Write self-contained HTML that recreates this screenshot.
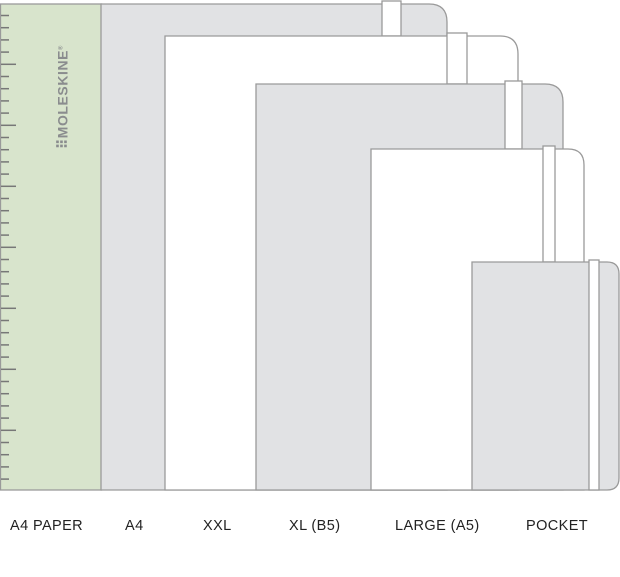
<!DOCTYPE html>
<html><head><style>
html,body{margin:0;padding:0;background:#fff;}
body{width:620px;height:577px;position:relative;overflow:hidden;font-family:"Liberation Sans",sans-serif;}
.l{position:absolute;top:518px;font-size:14.5px;letter-spacing:0.4px;color:#222;}
</style></head><body>
<svg width="620" height="577" style="position:absolute;left:0;top:0">
<g stroke="#9a9a9a" stroke-width="1.3">
<rect x="0.5" y="4" width="101" height="486" fill="#d8e4cc"/>
<path d="M101 490 V4 H429 Q447 4 447 22 V490 Z" fill="#e1e2e4"/>
<rect x="382" y="1" width="19" height="35" fill="#fff"/>
<path d="M165 490 V36 H500 Q518 36 518 54 V490 Z" fill="#fff"/>
<rect x="447" y="33" width="20" height="51" fill="#fff"/>
<path d="M256 490 V84 H545 Q563 84 563 102 V490 Z" fill="#e1e2e4"/>
<rect x="505" y="81" width="17" height="68" fill="#fff"/>
<path d="M371 490 V149 H568 Q584 149 584 165 V490 Z" fill="#fff"/>
<rect x="543" y="146" width="12" height="116" fill="#fff"/>
<path d="M472 490 V262 H607 Q619 262 619 274 V478 Q619 490 607 490 Z" fill="#e1e2e4"/>
<rect x="589" y="260" width="10" height="230" fill="#fff"/>
</g>
<g stroke="#777" stroke-width="1.5" id="t"></g>
<text transform="translate(67.5,149) rotate(-90)" font-family="Liberation Sans" font-weight="bold" font-size="14" fill="#8a8c8e" letter-spacing="0.6" textLength="104" lengthAdjust="spacingAndGlyphs">⠿MOLESKINE<tspan font-size="6" dy="-5">®</tspan></text>
</svg>
<script>
var g=document.getElementById('t'),s='';
for(var i=0;i<39;i++){var y=15.5+i*12.2;var L=((i-4)%5==0)?16:9;s+='<line x1="1" x2="'+L+'" y1="'+y+'" y2="'+y+'"/>';}
g.innerHTML=s;
</script>
<div class="l" style="left:10px">A4 PAPER</div>
<div class="l" style="left:125px">A4</div>
<div class="l" style="left:203px">XXL</div>
<div class="l" style="left:289px">XL (B5)</div>
<div class="l" style="left:395px">LARGE (A5)</div>
<div class="l" style="left:526px">POCKET</div>
</body></html>
